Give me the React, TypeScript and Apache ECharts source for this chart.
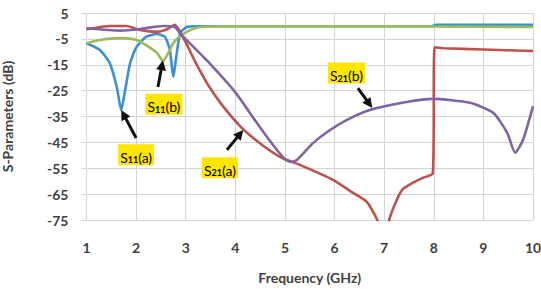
import React, { useEffect, useRef } from "react";
import * as echarts from "echarts";

const xTicks = [1, 2, 3, 4, 5, 6, 7, 8, 9, 10];
const yTicks = [-75, -65, -55, -45, -35, -25, -15, -5, 5];

// S11(a) - blue
const freqS11a = [1.0, 1.27, 1.47, 1.61, 1.7, 1.78, 1.88, 2.01, 2.2, 2.42, 2.58, 2.68, 2.75, 2.82, 2.89, 3.02, 3.2, 4, 5, 6, 7, 7.95, 8.05, 9, 10];
const valS11a = [-6.7, -9.3, -14.4, -23.6, -32.5, -24.7, -14.3, -8.1, -4.2, -3.1, -4.2, -9.3, -19.7, -10.4, -2.7, -0.4, -0.1, -0.1, -0.1, -0.1, -0.1, -0.1, 0.4, 0.4, 0.4];

// S11(b) - green
const freqS11b = [1.0, 1.27, 1.68, 2.01, 2.2, 2.42, 2.54, 2.65, 2.75, 2.89, 3.09, 3.29, 4, 5, 6, 7, 8, 9, 10];
const valS11b = [-6.7, -5.4, -4.7, -5.4, -7.4, -10.4, -13.5, -10.4, -6.6, -3.9, -1.6, -0.4, -0.1, -0.1, -0.1, -0.1, -0.2, -0.3, -0.4];

// S21(a) - red
const freqS21a = [1.0, 1.47, 1.81, 2.08, 2.42, 2.6, 2.78, 2.99, 3.19, 3.45, 3.73, 4.13, 4.54, 4.94, 5.3, 5.97, 6.37, 6.65, 6.86, 7.0, 7.1, 7.26, 7.38, 7.58, 7.78, 7.98, 8.02, 8.2, 9, 10];
const valS21a = [-1.3, 0, 0, -1.6, -2.3, -1.5, 0.4, -6, -13.8, -22.8, -30.5, -39.4, -46, -51, -53.7, -59.5, -64.5, -68, -75, -85, -75, -67, -63, -60.6, -58.7, -57, -8.3, -8.6, -9.1, -9.7];

// S21(b) - purple
const freqS21b = [1.0, 1.68, 2.08, 2.54, 2.78, 2.91, 3.1, 3.45, 3.99, 4.46, 4.8, 5.0, 5.12, 5.24, 5.57, 5.91, 6.25, 6.71, 7.45, 7.99, 8.73, 9.2, 9.48, 9.64, 9.8, 10];
const valS21b = [-0.9, -1.8, -1.2, 0, -0.4, -3.5, -7, -13.8, -25.4, -38.2, -47, -51.5, -52.6, -51.8, -45.2, -40.2, -36.3, -32.5, -29.4, -28.2, -29.7, -33.6, -41.3, -49, -44, -31];

// annotation anchors (data units): label centre, arrow tail, arrow head
const annotations = [
  { sub: "11", tail: "(a)", label: [2.0, -49.8], from: [2.0, -43.3], to: [1.7, -32.5] },
  { sub: "11", tail: "(b)", label: [2.56, -30.3], from: [2.44, -23.6], to: [2.54, -13.3] },
  { sub: "21", tail: "(a)", label: [3.69, -54.8], from: [3.83, -47.9], to: [4.16, -40.2] },
  { sub: "21", tail: "(b)", label: [6.24, -18.2], from: [6.47, -24.0], to: [6.76, -31.7] },
];

const zip = (xs: number[], ys: number[]) => xs.map((x, i) => [x, ys[i]]);

const FONT = "Lato";
const TEXT = "#404040";

export default function App() {
  const ref = useRef<HTMLDivElement>(null);
  useEffect(() => {
    const chart = echarts.init(ref.current!, null, { renderer: "svg" });
    const lineSeries = (name: string, color: string, data: number[][]) => ({
      name,
      type: "line",
      data,
      showSymbol: false,
      smooth: 0.2,
      clip: true,
      lineStyle: { color, width: 2.6 },
      itemStyle: { color },
    });
    chart.setOption({
      animation: false,
      backgroundColor: "#ffffff",
      grid: { left: 86.5, right: 8, top: 13, bottom: 71, outerBoundsMode: "none", containLabel: false },
      xAxis: {
        type: "value",
        min: 1,
        max: 10,
        interval: 1,
        name: "Frequency (GHz)",
        nameLocation: "middle",
        nameGap: 50,
        nameTextStyle: { fontFamily: FONT, fontWeight: "bold", fontSize: 14, color: TEXT },
        axisLine: { show: false },
        axisTick: { show: false },
        axisLabel: { fontFamily: FONT, fontWeight: "bold", fontSize: 14, color: TEXT, margin: 20 },
        splitLine: { show: true, lineStyle: { color: "#d4d4d4", width: 1 } },
      },
      yAxis: {
        type: "value",
        min: -75,
        max: 5,
        name: "S-Parameters (dB)",
        nameLocation: "middle",
        nameGap: 72,
        nameTextStyle: { fontFamily: FONT, fontWeight: "bold", fontSize: 14, color: TEXT },
        axisLine: { show: false },
        axisTick: { show: true, customValues: yTicks, length: 5, lineStyle: { color: "#d4d4d4" } },
        axisLabel: { customValues: yTicks, fontFamily: FONT, fontWeight: "bold", fontSize: 14, color: TEXT, margin: 18 },
        splitLine: { show: true, lineStyle: { color: "#d4d4d4", width: 1 } },
      },
      series: [
        lineSeries("S11(a)", "#3b8fd6", zip(freqS11a, valS11a)),
        lineSeries("S11(b)", "#9bbb59", zip(freqS11b, valS11b)),
        lineSeries("S21(a)", "#c0504d", zip(freqS21a, valS21a)),
        lineSeries("S21(b)", "#8064a2", zip(freqS21b, valS21b)),
      ],
    });

    const px = (p: number[]) => chart.convertToPixel({ gridIndex: 0 }, p) as number[];
    const graphics: any[] = [];
    annotations.forEach((a) => {
      const f = px(a.from);
      const t = px(a.to);
      const dx = t[0] - f[0];
      const dy = t[1] - f[1];
      const len = Math.sqrt(dx * dx + dy * dy);
      const ux = dx / len;
      const uy = dy / len;
      const headLen = 10;
      const headW = 5;
      const bx = t[0] - ux * headLen;
      const by = t[1] - uy * headLen;
      graphics.push({
        type: "line",
        shape: { x1: f[0], y1: f[1], x2: bx + ux * 2, y2: by + uy * 2 },
        style: { stroke: "#111111", lineWidth: 3 },
        z: 100,
      });
      graphics.push({
        type: "polygon",
        shape: {
          points: [
            [t[0], t[1]],
            [bx - uy * headW, by + ux * headW],
            [bx + uy * headW, by - ux * headW],
          ],
        },
        style: { fill: "#111111" },
        z: 100,
      });
      const c = px(a.label);
      graphics.push({
        type: "text",
        x: c[0],
        y: c[1],
        z: 100,
        style: {
          text: `{n|S}{s|${a.sub}}{n|${a.tail}}`,
          align: "center",
          verticalAlign: "middle",
          backgroundColor: "#ffe600",
          padding: [1, 2, 1, 2],
          rich: {
            n: { fontFamily: FONT, fontSize: 14, color: "#3a3a3a", lineHeight: 19, verticalAlign: "bottom" },
            s: { fontFamily: FONT, fontSize: 9, color: "#3a3a3a", fontWeight: "bold", verticalAlign: "bottom" },
          },
        },
      });
    });
    chart.setOption({ graphic: graphics });

    return () => chart.dispose();
  }, []);
  return (
    <div
      ref={ref}
      style={{ position: "fixed", left: 0, top: 0, width: 541, height: 291, background: "#fff" }}
    />
  );
}
